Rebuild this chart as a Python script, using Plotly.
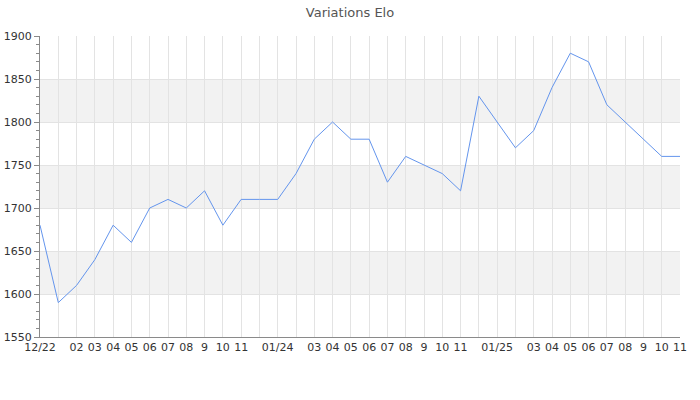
"""Elo rating over time — single line chart with banded background."""

import plotly.graph_objects as go

# ── Data ──────────────────────────────────────────────────────────────────────
months = [
    "2022-12", "2023-01", "2023-02", "2023-03", "2023-04", "2023-05",
    "2023-06", "2023-07", "2023-08", "2023-09", "2023-10", "2023-11",
    "2023-12", "2024-01", "2024-02", "2024-03", "2024-04", "2024-05",
    "2024-06", "2024-07", "2024-08", "2024-09", "2024-10", "2024-11",
    "2024-12", "2025-01", "2025-02", "2025-03", "2025-04", "2025-05",
    "2025-06", "2025-07", "2025-08", "2025-09", "2025-10", "2025-11",
]
elo = [
    1680, 1590, 1610, 1640, 1680, 1660, 1700, 1710, 1700, 1720, 1680, 1710,
    1710, 1710, 1740, 1780, 1800, 1780, 1780, 1730, 1760, 1750, 1740, 1720,
    1830, 1800, 1770, 1790, 1840, 1880, 1870, 1820, 1800, 1780, 1760, 1760,
]
tick_labels = [
    "12/22", "", "02", "03", "04", "05", "06", "07", "08", "9", "10", "11",
    "", "01/24", "", "03", "04", "05", "06", "07", "08", "9", "10", "11",
    "", "01/25", "", "03", "04", "05", "06", "07", "08", "9", "10", "11",
]
bands = [(1600, 1650), (1700, 1750), (1800, 1850)]

# ── Theme ─────────────────────────────────────────────────────────────────────
_LINE  = "#6495ed"
_GRID  = "#e3e3e3"
_BAND  = "#f2f2f2"
_AXIS  = "#8a8a8a"
_TEXT  = "#333333"
_TITLE = "#555555"

idx = list(range(len(months)))

fig = go.Figure(go.Scatter(
    x=idx, y=elo,
    mode="lines",
    line=dict(color=_LINE, width=1),
    customdata=months,
    hovertemplate="%{customdata}: <b>%{y}</b><extra></extra>",
    showlegend=False,
))

for lo, hi in bands:
    fig.add_shape(
        type="rect", xref="paper", yref="y",
        x0=0, x1=1, y0=lo, y1=hi,
        fillcolor=_BAND, line_width=0, layer="below",
    )

fig.update_layout(
    width=700, height=400,
    paper_bgcolor="white",
    plot_bgcolor="white",
    font=dict(family="DejaVu Sans", color=_TEXT, size=11),
    margin=dict(l=40, r=20, t=36, b=63),
    title=dict(text="Variations Elo", x=0.5, xanchor="center",
               y=0.97, yanchor="middle", font=dict(size=13, color=_TITLE)),
    xaxis=dict(
        range=[0, len(months) - 1],
        tickvals=idx, ticktext=tick_labels,
        showgrid=True, gridcolor=_GRID, gridwidth=1,
        showline=True, linecolor=_AXIS, linewidth=1,
        ticks="", zeroline=False, tickangle=0, automargin=False,
    ),
    yaxis=dict(
        range=[1550, 1900], dtick=50, tick0=1550,
        showgrid=True, gridcolor=_GRID, gridwidth=1,
        showline=True, linecolor=_AXIS, linewidth=1,
        ticks="outside", ticklen=5, tickcolor=_AXIS,
        minor=dict(dtick=10, ticks="outside", ticklen=3,
                   tickcolor=_AXIS, showgrid=False),
        zeroline=False, automargin=False,
    ),
)

# drop the default 8px body margin so the figure sits at the page origin
fig.write_html(
    "out.html",
    config={"displayModeBar": False},
    post_script="document.body.style.margin='0';",
)
